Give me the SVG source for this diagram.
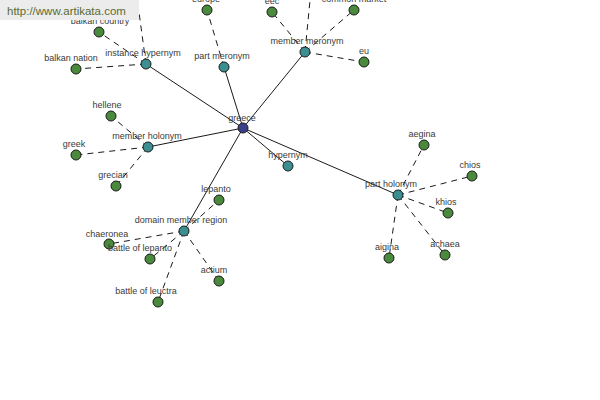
<svg xmlns="http://www.w3.org/2000/svg" width="600" height="400" viewBox="0 0 600 400">
<style>
.t{font-family:"Liberation Sans",Arial,sans-serif;font-size:9px;fill:#3a3a3a;text-anchor:middle}
.s{stroke:#000;stroke-width:0.9;fill:none}
.d{stroke:#000;stroke-width:0.9;fill:none;stroke-dasharray:6,5}
.c{fill:#3a3f8a;stroke:#1a1a1a;stroke-width:1}
.r{fill:#3b8f90;stroke:#1a1a1a;stroke-width:1}
.l{fill:#4a8a3c;stroke:#1a1a1a;stroke-width:1}
</style>
<rect width="600" height="400" fill="#fff"/>
<g id="connectors">
<line class="s" x1="243" y1="128" x2="146" y2="64"/>
<line class="s" x1="243" y1="128" x2="224" y2="67"/>
<line class="s" x1="243" y1="128" x2="305" y2="52"/>
<line class="s" x1="243" y1="128" x2="148" y2="147"/>
<line class="s" x1="243" y1="128" x2="288" y2="166"/>
<line class="s" x1="243" y1="128" x2="398" y2="195"/>
<line class="s" x1="243" y1="128" x2="184" y2="231"/>
<line class="d" x1="146" y1="64" x2="99" y2="32"/>
<line class="d" x1="146" y1="64" x2="76" y2="69"/>
<line class="d" x1="146" y1="64" x2="136" y2="-10"/>
<line class="d" x1="224" y1="67" x2="207" y2="10"/>
<line class="d" x1="305" y1="52" x2="272" y2="12"/>
<line class="d" x1="305" y1="52" x2="354" y2="10"/>
<line class="d" x1="305" y1="52" x2="311" y2="-10"/>
<line class="d" x1="305" y1="52" x2="364" y2="62"/>
<line class="d" x1="148" y1="147" x2="111" y2="116"/>
<line class="d" x1="148" y1="147" x2="76" y2="155"/>
<line class="d" x1="148" y1="147" x2="116" y2="186"/>
<line class="d" x1="184" y1="231" x2="219" y2="200"/>
<line class="d" x1="184" y1="231" x2="109" y2="244"/>
<line class="d" x1="184" y1="231" x2="150" y2="259"/>
<line class="d" x1="184" y1="231" x2="158" y2="302"/>
<line class="d" x1="184" y1="231" x2="219" y2="281"/>
<line class="d" x1="398" y1="195" x2="424" y2="145"/>
<line class="d" x1="398" y1="195" x2="472" y2="176"/>
<line class="d" x1="398" y1="195" x2="448" y2="213"/>
<line class="d" x1="398" y1="195" x2="389" y2="258"/>
<line class="d" x1="398" y1="195" x2="445" y2="255"/>
</g>
<g id="greece"><circle class="c" cx="243" cy="128" r="5"/><text class="t" x="242" y="121">greece</text></g>
<g id="instance-hypernym"><circle class="r" cx="146" cy="64" r="5"/><text class="t" x="143" y="56">instance hypernym</text></g>
<g id="part-meronym"><circle class="r" cx="224" cy="67" r="5"/><text class="t" x="222" y="59">part meronym</text></g>
<g id="member-meronym"><circle class="r" cx="305" cy="52" r="5"/><text class="t" x="307" y="44">member meronym</text></g>
<g id="member-holonym"><circle class="r" cx="148" cy="147" r="5"/><text class="t" x="147" y="139">member holonym</text></g>
<g id="hypernym"><circle class="r" cx="288" cy="166" r="5"/><text class="t" x="288" y="158">hypernym</text></g>
<g id="part-holonym"><circle class="r" cx="398" cy="195" r="5"/><text class="t" x="391" y="187">part holonym</text></g>
<g id="domain-member-region"><circle class="r" cx="184" cy="231" r="5"/><text class="t" x="181" y="223">domain member region</text></g>
<g id="balkan-country"><circle class="l" cx="99" cy="32" r="5"/><text class="t" x="100" y="24">balkan country</text></g>
<g id="balkan-nation"><circle class="l" cx="76" cy="69" r="5"/><text class="t" x="71" y="61">balkan nation</text></g>
<g id="europe"><circle class="l" cx="207" cy="10" r="5"/><text class="t" x="206" y="2">europe</text></g>
<g id="eec"><circle class="l" cx="272" cy="12" r="5"/><text class="t" x="272" y="4">eec</text></g>
<g id="common-market"><circle class="l" cx="354" cy="10" r="5"/><text class="t" x="354" y="2">common market</text></g>
<g id="eu"><circle class="l" cx="364" cy="62" r="5"/><text class="t" x="364" y="54">eu</text></g>
<g id="hellene"><circle class="l" cx="111" cy="116" r="5"/><text class="t" x="107" y="108">hellene</text></g>
<g id="greek"><circle class="l" cx="76" cy="155" r="5"/><text class="t" x="74" y="147">greek</text></g>
<g id="grecian"><circle class="l" cx="116" cy="186" r="5"/><text class="t" x="113" y="178">grecian</text></g>
<g id="lepanto"><circle class="l" cx="219" cy="200" r="5"/><text class="t" x="216" y="192">lepanto</text></g>
<g id="chaeronea"><circle class="l" cx="109" cy="244" r="5"/><text class="t" x="107" y="237">chaeronea</text></g>
<g id="battle-of-lepanto"><circle class="l" cx="150" cy="259" r="5"/><text class="t" x="140" y="251">battle of lepanto</text></g>
<g id="battle-of-leuctra"><circle class="l" cx="158" cy="302" r="5"/><text class="t" x="146" y="294">battle of leuctra</text></g>
<g id="actium"><circle class="l" cx="219" cy="281" r="5"/><text class="t" x="214" y="273">actium</text></g>
<g id="aegina"><circle class="l" cx="424" cy="145" r="5"/><text class="t" x="422" y="137">aegina</text></g>
<g id="chios"><circle class="l" cx="472" cy="176" r="5"/><text class="t" x="470" y="168">chios</text></g>
<g id="khios"><circle class="l" cx="448" cy="213" r="5"/><text class="t" x="446" y="205">khios</text></g>
<g id="aigina"><circle class="l" cx="389" cy="258" r="5"/><text class="t" x="387" y="250">aigina</text></g>
<g id="achaea"><circle class="l" cx="445" cy="255" r="5"/><text class="t" x="445" y="247">achaea</text></g>
<g id="watermark"><rect x="0" y="0" width="139" height="20" fill="#ececec"/><text x="7" y="15" font-family="'Liberation Sans',Arial,sans-serif" font-size="11.5" fill="#5a6b30">http://www.artikata.com</text></g>
</svg>
